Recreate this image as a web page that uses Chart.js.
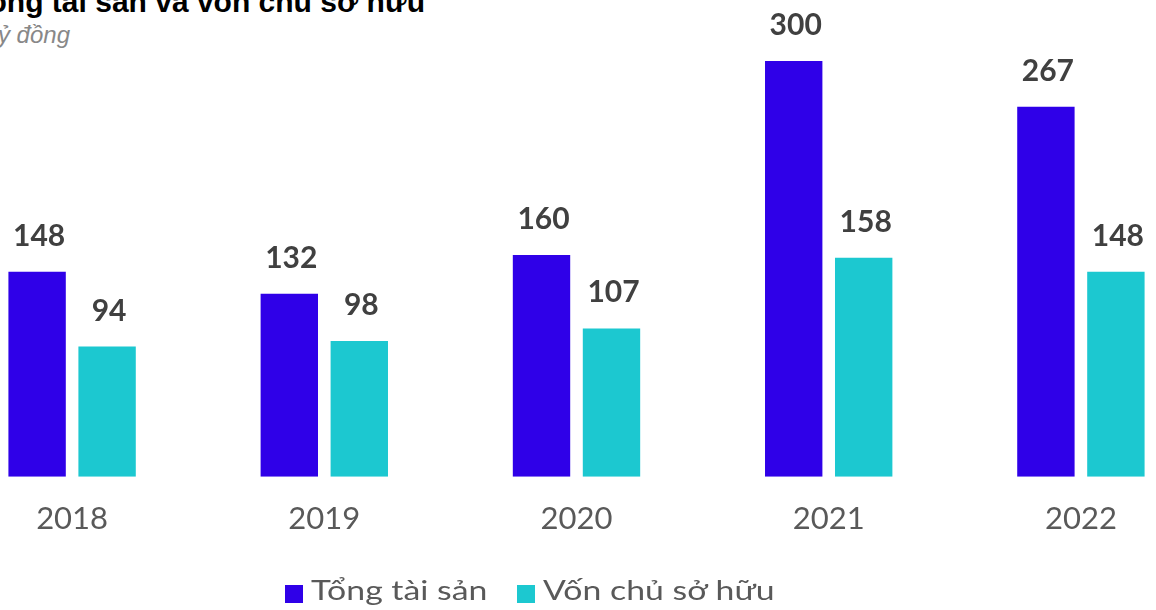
<!DOCTYPE html>
<html>
<head>
<meta charset="utf-8">
<script src="https://cdn.jsdelivr.net/npm/chart.js@4"></script>
<style>
  html, body { margin: 0; padding: 0; background: #fff; overflow: hidden; }
  body { width: 1156px; height: 610px; position: relative; }
  #title { position: absolute; right: 731px; top: -15px; white-space: nowrap;
           font: bold 30px "Liberation Sans", Arial, sans-serif; color: #000; }
  #subtitle { position: absolute; right: 1086px; top: 21px; white-space: nowrap;
              font: italic 24px "Liberation Sans", Arial, sans-serif; color: #888; }
  #chartBox { position: absolute; left: -54px; top: 0; width: 1261px; height: 610px; }
  #legend { position: absolute; left: 0; top: 574px; width: 1156px; height: 36px;
            font: 26px Lato, sans-serif; color: #595959; }
  #legend .box { position: absolute; top: 11px; width: 18px; height: 18px; }
  #legend .txt { position: absolute; top: 0; white-space: nowrap;
                 transform: scaleX(1.3); transform-origin: left center; }
</style>
</head>
<body>
<div id="title">Tổng tài sản và vốn chủ sở hữu</div>
<div id="subtitle">Nghìn tỷ đồng</div>
<div id="chartBox"><canvas id="assetChart"></canvas></div>
<div id="legend"></div>
<script>
// Data
const years = ['2018', '2019', '2020', '2021', '2022'];
const totalAssets = [148, 132, 160, 300, 267];
const equity = [94, 98, 107, 158, 148];
const seriesNames = ['Tổng tài sản', 'Vốn chủ sở hữu'];
const seriesColors = ['#2F00E8', '#1CC8D0'];

// Value labels plugin block
const valueLabels = {
    id: 'valueLabels',
    afterDatasetsDraw(chart) {
        const ctx = chart.ctx;
        ctx.save();
        ctx.font = 'bold 30px Lato, sans-serif';
        ctx.fillStyle = '#404040';
        ctx.textAlign = 'center';
        ctx.textBaseline = 'alphabetic';
        chart.data.datasets.forEach((ds, i) => {
            chart.getDatasetMeta(i).data.forEach((bar, j) => {
                ctx.fillText(ds.data[j], bar.x + 2, bar.y - 26);
            });
        });
        ctx.restore();
    }
};

// Config block
const assetConfig = {
    type: 'bar',
    data: {
        labels: years,
        datasets: [{
            label: seriesNames[0],
            data: totalAssets,
            backgroundColor: seriesColors[0]
        }, {
            label: seriesNames[1],
            data: equity,
            backgroundColor: seriesColors[1]
        }]
    },
    options: {
        responsive: true,
        maintainAspectRatio: false,
        animation: false,
        categoryPercentage: 0.555,
        barPercentage: 0.82,
        layout: { padding: { top: 61, bottom: 48, left: 0, right: 0 } },
        scales: {
            x: {
                grid: { display: false, drawTicks: false },
                border: { display: false },
                ticks: {
                    color: '#595959',
                    font: { family: 'Lato, sans-serif', size: 31 },
                    padding: 24
                }
            },
            y: { display: false, min: 0, max: 300 }
        },
        plugins: {
            legend: { display: false },  // HTML legend below
            tooltip: { enabled: false }
        }
    },
    plugins: [valueLabels]
};

const assetChart = new Chart(document.getElementById('assetChart'), assetConfig);

// HTML legend built from the series
const legendEl = document.getElementById('legend');
const legendX = [285, 517];
seriesNames.forEach((name, i) => {
    const box = document.createElement('span');
    box.className = 'box';
    box.style.left = legendX[i] + 'px';
    box.style.background = seriesColors[i];
    const txt = document.createElement('span');
    txt.className = 'txt';
    txt.style.left = (legendX[i] + 26) + 'px';
    txt.textContent = name;
    legendEl.appendChild(box);
    legendEl.appendChild(txt);
});
</script>
</body>
</html>
